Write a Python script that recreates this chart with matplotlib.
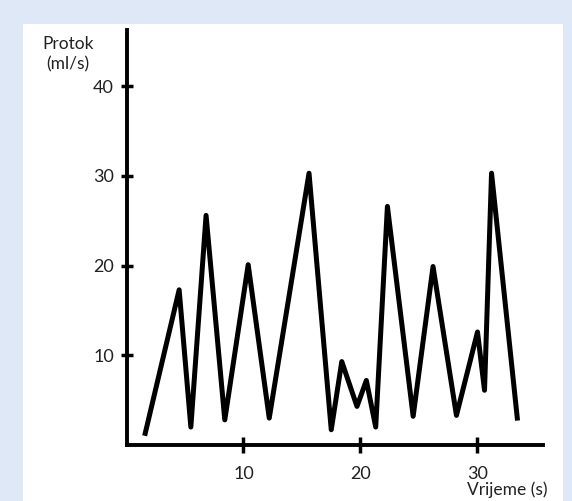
import matplotlib.pyplot as plt
from matplotlib.patches import Rectangle

plt.rcParams['font.family'] = ['Lato', 'DejaVu Sans']

# flow vs time
vrijeme = [1.6, 4.5, 5.5, 6.8, 8.4, 10.4, 12.2, 15.6, 17.5, 18.4, 19.7, 20.5,
           21.3, 22.3, 24.5, 26.2, 28.2, 30.0, 30.6, 31.2, 33.4]
protok = [1.3, 17.3, 2.0, 25.6, 2.8, 20.1, 3.0, 30.3, 1.7, 9.3, 4.3, 7.2,
          2.0, 26.6, 3.2, 19.9, 3.3, 12.6, 6.1, 30.3, 3.0]
x_ticks = [10, 20, 30]
y_ticks = [10, 20, 30, 40]

W, H = 572, 501
fig = plt.figure(figsize=(W / 100, H / 100), dpi=100)
fig.patch.set_facecolor('#dfe8f6')
fig.add_artist(Rectangle((23 / W, 0), (563 - 23) / W, (H - 24) / H,
                         transform=fig.transFigure, facecolor='white',
                         edgecolor='none', zorder=0))

x0, x1 = 126.5, 543
y0, y1 = 445, 30
ax = fig.add_axes([x0 / W, (H - y0) / H, (x1 - x0) / W, (y0 - y1) / H])
ax.set_facecolor('none')
ax.set_xlim(0, (x1 - x0) / 11.7)
ax.set_ylim(0, (y0 - y1) / 8.97)

ax.plot(vrijeme, protok, color='black', lw=3.6, solid_joinstyle='round')

for s in ['top', 'right']:
    ax.spines[s].set_visible(False)
for s in ['left', 'bottom']:
    ax.spines[s].set_linewidth(2.8)
    ax.spines[s].set_color('black')

ax.set_xticks(x_ticks)
ax.set_yticks(y_ticks)
ax.tick_params(axis='y', direction='inout', length=8, width=2.5, pad=5,
               labelsize=13, labelcolor='#222222')
ax.tick_params(axis='x', direction='inout', length=12, width=2.5, pad=9,
               labelsize=13, labelcolor='#222222')

fig.text(68 / W, 1 - 54 / H, 'Protok\n(ml/s)', ha='center', va='center',
         fontsize=12.5, linespacing=1.35, color='#222222')
fig.text(507 / W, 1 - 490 / H, 'Vrijeme (s)', ha='center', va='center',
         fontsize=12.5, color='#222222')

fig.savefig('out.png', dpi=100, facecolor=fig.get_facecolor())
